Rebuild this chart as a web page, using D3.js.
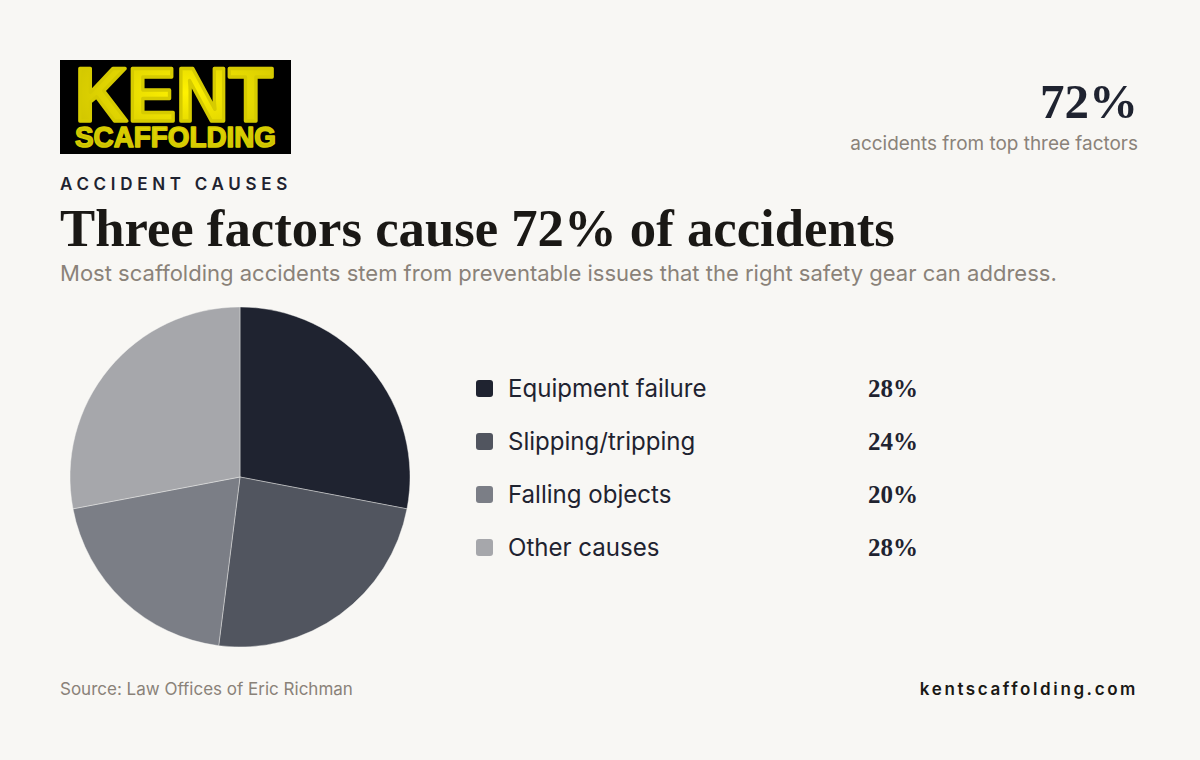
<!DOCTYPE html>
<html>
<head>
<meta charset="utf-8">
<script src="https://cdn.jsdelivr.net/npm/d3@7"></script>
<style>
  html, body { margin: 0; padding: 0; background: #f8f7f4; }
  svg { display: block; }
</style>
</head>
<body>
<svg id="chart" width="1200" height="760"></svg>
<script>
// ---- Data ----
const categories = ["Equipment failure", "Slipping/tripping", "Falling objects", "Other causes"];
const values = [28, 24, 20, 28];
const valueLabels = ["28%", "24%", "20%", "28%"];
const colors = ["#1f2330", "#51555f", "#7b7e86", "#a6a7ab"];
const headline = "72%";
const headlineNote = "accidents from top three factors";
const kicker = "ACCIDENT CAUSES";
const title = "Three factors cause 72% of accidents";
const subtitle = "Most scaffolding accidents stem from preventable issues that the right safety gear can address.";
const source = "Source: Law Offices of Eric Richman";
const site = "kentscaffolding.com";

const svg = d3.select("#chart");
const SANS = "Inter, 'Noto Sans', sans-serif";
const SERIF = "'Liberation Serif', 'DejaVu Serif', serif";

// scale a text's font size so that it spans a target width
function fit(sel, target) {
  const fs = +sel.attr("font-size");
  const w = sel.node().getComputedTextLength();
  sel.attr("font-size", fs * target / w);
  return sel;
}

svg.append("rect").attr("width", 1200).attr("height", 760).attr("fill", "#f8f7f4");

// ---- Logo ----
const defs = svg.append("defs");
const grad = defs.append("radialGradient").attr("id", "ygrad")
  .attr("cx", "55%").attr("cy", "40%").attr("r", "70%");
grad.append("stop").attr("offset", "0%").attr("stop-color", "#fff200");
grad.append("stop").attr("offset", "100%").attr("stop-color", "#c9be00");

const logo = svg.append("g").attr("transform", "translate(60,60)");
logo.append("rect").attr("width", 231).attr("height", 94).attr("fill", "#000");
const lt = logo.append("text")
  .attr("font-family", "'Liberation Sans', Arial, sans-serif")
  .attr("font-weight", 900)
  .attr("fill", "url(#ygrad)").attr("stroke", "#d6cb00")
  .attr("stroke-linejoin", "round");
lt.append("tspan").text("KENT")
  .attr("x", 15).attr("y", 61).attr("font-size", 76)
  .attr("stroke-width", 3.5)
  .attr("textLength", 198).attr("lengthAdjust", "spacingAndGlyphs");
lt.append("tspan").text("SCAFFOLDING")
  .attr("x", 15).attr("y", 87).attr("font-size", 30)
  .attr("stroke-width", 1.6)
  .attr("textLength", 201).attr("lengthAdjust", "spacingAndGlyphs");

// ---- Headline stat ----
svg.append("text").text(headline)
  .attr("x", 1138).attr("y", 118).attr("text-anchor", "end")
  .attr("font-family", SERIF).attr("font-weight", 700).attr("font-size", 49)
  .attr("fill", "#1f2330");
fit(svg.append("text").text(headlineNote)
  .attr("x", 1138).attr("y", 150).attr("text-anchor", "end")
  .attr("font-family", SANS).attr("font-size", 18).attr("fill", "#8a8279"), 288);

// ---- Kicker / title / subtitle ----
svg.append("text").text(kicker)
  .attr("x", 60).attr("y", 190)
  .attr("font-family", SANS).attr("font-weight", 600).attr("font-size", 17)
  .attr("letter-spacing", 4.7).attr("fill", "#1f2330");

fit(svg.append("text").text(title)
  .attr("x", 60).attr("y", 246)
  .attr("font-family", SERIF).attr("font-weight", 700).attr("font-size", 54)
  .attr("fill", "#1a1815"), 835);

fit(svg.append("text").text(subtitle)
  .attr("x", 60).attr("y", 281)
  .attr("font-family", SANS).attr("font-size", 20).attr("fill", "#8a8279"), 997);

// ---- Pie ----
const pie = d3.pie().sort(null).value(d => d)(values);
const arc = d3.arc().innerRadius(0).outerRadius(170);
const color = d3.scaleOrdinal().domain(categories).range(colors);
svg.append("g").attr("transform", "translate(240,477)")
  .selectAll("path").data(pie).join("path")
  .attr("d", arc)
  .attr("fill", (d, i) => color(categories[i]))
  .attr("stroke", "#f8f7f4").attr("stroke-width", 0.4);

// ---- Legend ----
const y = d3.scalePoint().domain(categories).range([388, 547]);
const rows = svg.append("g").selectAll("g").data(categories).join("g")
  .attr("transform", d => `translate(0,${y(d)})`);
rows.append("rect").attr("x", 476).attr("y", -8).attr("width", 17).attr("height", 17)
  .attr("rx", 3).attr("fill", d => color(d));
const labelSize = 22 * 198 / 181;
rows.append("text").text(d => d)
  .attr("x", 508).attr("y", 9)
  .attr("font-family", SANS).attr("font-size", labelSize).attr("fill", "#1f2330");
rows.append("text").text((d, i) => valueLabels[i])
  .attr("x", 868).attr("y", 9)
  .attr("font-family", SERIF).attr("font-weight", 700).attr("font-size", 25)
  .attr("fill", "#1f2330");

// ---- Footer ----
fit(svg.append("text").text(source)
  .attr("x", 60).attr("y", 695)
  .attr("font-family", SANS).attr("font-size", 15).attr("fill", "#8a8279"), 293);
svg.append("text").text(site)
  .attr("x", 1138).attr("y", 695).attr("text-anchor", "end")
  .attr("font-family", SANS).attr("font-weight", 600).attr("font-size", 17)
  .attr("letter-spacing", 2.6).attr("fill", "#1a1815");
</script>
</body>
</html>
